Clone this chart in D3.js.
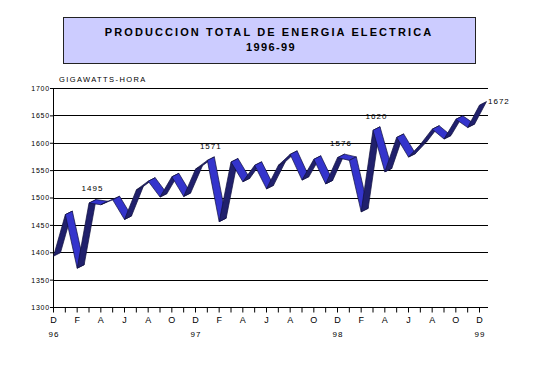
<!DOCTYPE html>
<html>
<head>
<meta charset="utf-8">
<script src="https://cdn.jsdelivr.net/npm/d3@7"></script>
<style>
  body { margin: 0; background: #fff; }
  text { font-family: Arial, 'Liberation Sans', sans-serif; fill: #000; }
</style>
</head>
<body>
<svg id="chart" width="538" height="390"></svg>
<script>
const monthLetters = ['E', 'F', 'M', 'A', 'M', 'J', 'J', 'A', 'S', 'O', 'N', 'D']
const years = ['96', '97', '98', '99']

// Dic 1996 .. Dic 1999, GWh
const values = [
  1396, 1472, 1374, 1493, 1490, 1499, 1463, 1517, 1533, 1504, 1541, 1505,
  1555, 1571, 1459, 1568, 1532, 1562, 1519, 1562, 1582, 1535, 1573, 1528,
  1576, 1571, 1477, 1626, 1550, 1613, 1577, 1600, 1628, 1610, 1646, 1631,
  1672
]

const labelIndex = [3, 13, 24, 27, 36]
const labelText = ['1495', '1571', '1576', '1620', '1672']

const yTicks = d3.range(1300, 1701, 50)

const plot = { left: 53, right: 479, end: 488, top: 88, bottom: 307 }
const depth = { dx: 7, dy: -3.5 }

const svg = d3.select('#chart')

const x = d3.scaleLinear()
  .domain([0, values.length - 1])
  .range([plot.left, plot.right])

const y = d3.scaleLinear()
  .domain([1300, 1700])
  .range([plot.bottom, plot.top])

// title box
svg.append('rect')
  .attr('x', 63.5).attr('y', 17.5)
  .attr('width', 412).attr('height', 46)
  .attr('fill', '#ccccff')
  .attr('stroke', '#222')
svg.append('text')
  .attr('x', 269).attr('y', 36)
  .attr('text-anchor', 'middle')
  .attr('font-size', 11).attr('font-weight', 'bold')
  .attr('letter-spacing', 2.1)
  .text('PRODUCCION TOTAL DE ENERGIA ELECTRICA')
svg.append('text')
  .attr('x', 271).attr('y', 51)
  .attr('text-anchor', 'middle')
  .attr('font-size', 11).attr('font-weight', 'bold')
  .attr('letter-spacing', 1.4)
  .text('1996-99')

svg.append('text')
  .attr('x', 59).attr('y', 82)
  .attr('font-size', 7.5)
  .attr('letter-spacing', 1.4)
  .text('GIGAWATTS-HORA')

// grid + y axis
const yAxis = d3.axisLeft(y)
  .tickValues(yTicks)
  .tickSize(3)
  .tickFormat(d3.format('d'))

const yg = svg.append('g')
  .attr('transform', `translate(${plot.left},0)`)
  .call(yAxis)
yg.select('.domain').remove()
yg.selectAll('line').attr('stroke', '#000')
yg.selectAll('text')
  .attr('font-size', 7)
  .attr('letter-spacing', 0.8)
  .attr('x', -3)
  .attr('dy', '0.35em')

svg.append('g')
  .selectAll('line')
  .data(yTicks)
  .join('line')
  .attr('x1', plot.left).attr('x2', plot.end)
  .attr('y1', (d) => Math.round(y(d)) + 0.5)
  .attr('y2', (d) => Math.round(y(d)) + 0.5)
  .attr('stroke', '#000')

svg.append('line')
  .attr('x1', plot.left + 0.5).attr('x2', plot.left + 0.5)
  .attr('y1', y(1700)).attr('y2', y(1300))
  .attr('stroke', '#000')

// x axis
const xAxis = d3.axisBottom(x)
  .tickValues(d3.range(values.length))
  .tickSize(5)
  .tickFormat((i) => i % 2 === 0 ? monthLetters[(11 + i) % 12] : '')

const xg = svg.append('g')
  .attr('transform', `translate(0,${Math.round(y(1300)) + 0.5})`)
  .call(xAxis)
xg.select('.domain').remove()
xg.selectAll('line').attr('stroke', '#000')
xg.selectAll('text')
  .attr('font-size', 9)
  .attr('y', 9)
  .attr('dy', '0.71em')

svg.append('g')
  .selectAll('text')
  .data(years)
  .join('text')
  .attr('x', (d, i) => x(i * 12) + 1)
  .attr('y', 337)
  .attr('text-anchor', 'middle')
  .attr('font-size', 8)
  .attr('letter-spacing', 1)
  .text((d) => d)

// 3D ribbon line
const front = values.map((v, i) => [x(i) + 0.5, y(v) + 1.75])
const segments = d3.pairs(front)

svg.append('g')
  .selectAll('path')
  .data(segments)
  .join('path')
  .attr('d', ([a, b]) => 'M' + [
    a, b,
    [b[0] + depth.dx, b[1] + depth.dy],
    [a[0] + depth.dx, a[1] + depth.dy]
  ].map((p) => p.join(',')).join('L') + 'Z')
  .attr('fill', ([a, b]) => {
    const cross = (b[0] - a[0]) * depth.dy - (b[1] - a[1]) * depth.dx
    return cross > 0 ? '#20206c' : '#3434cc'
  })
  .attr('stroke', '#10103e')
  .attr('stroke-width', 0.7)
  .attr('stroke-linejoin', 'round')

// data labels
svg.append('g')
  .selectAll('text')
  .data(labelIndex)
  .join('text')
  .attr('x', (d) => d === values.length - 1 ? x(d) + 9 : x(d) + 4)
  .attr('y', (d) => d === values.length - 1 ? y(values[d]) + 1 : y(values[d]) - 10)
  .attr('text-anchor', (d) => d === values.length - 1 ? 'start' : 'middle')
  .attr('font-size', 8)
  .attr('letter-spacing', 1)
  .text((d, i) => labelText[i])
</script>
</body>
</html>
